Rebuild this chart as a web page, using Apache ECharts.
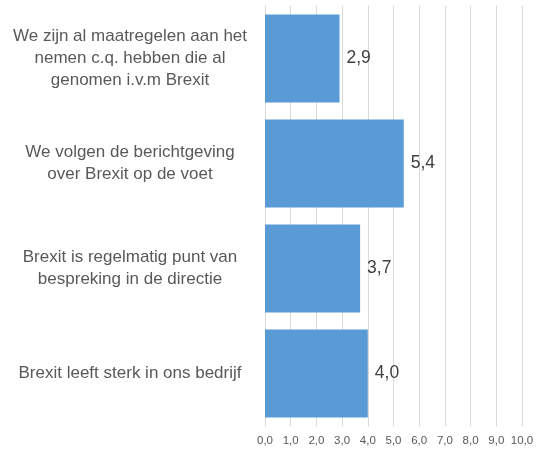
<!DOCTYPE html>
<html>
<head>
<meta charset="utf-8">
<script src="https://cdn.jsdelivr.net/npm/echarts@6/dist/echarts.min.js"></script>
<style>
  html, body { margin: 0; padding: 0; background: #fff; }
  #chart { width: 539px; height: 450px; }
</style>
</head>
<body>
<div id="chart"></div>
<script>
// categories, top to bottom
const categories = [
  'We zijn al maatregelen aan het\nnemen c.q. hebben die al\ngenomen i.v.m Brexit',
  'We volgen de berichtgeving\nover Brexit op de voet',
  'Brexit is regelmatig punt van\nbespreking in de directie',
  'Brexit leeft sterk in ons bedrijf'
];
const values = [2.9, 5.4, 3.7, 4.0];
const xTicks = [0, 1, 2, 3, 4, 5, 6, 7, 8, 9, 10];

// Nederlandse notatie: komma als decimaalteken
const fmt = v => Number(v).toFixed(1).replace('.', ',');

const chart = echarts.init(document.getElementById('chart'));
chart.setOption({
  animation: false,
  grid: { left: 265, right: 17, top: 6, bottom: 24 },
  xAxis: {
    type: 'value',
    min: xTicks[0],
    max: xTicks[xTicks.length - 1],
    interval: 1,
    axisLine: { show: false },
    axisTick: { show: false },
    splitLine: { lineStyle: { color: '#d9d9d9', width: 1 } },
    axisLabel: {
      formatter: fmt,
      color: '#595959',
      fontSize: 11.5,
      fontFamily: 'Liberation Sans',
      margin: 9
    }
  },
  yAxis: {
    type: 'category',
    inverse: true,
    data: categories,
    axisLine: { lineStyle: { color: '#d9d9d9' } },
    axisTick: { show: false },
    axisLabel: {
      color: '#595959',
      fontSize: 17,
      fontFamily: 'Liberation Sans',
      lineHeight: 22,
      align: 'center',
      margin: 135
    }
  },
  series: [{
    type: 'bar',
    data: values,
    barCategoryGap: '16%',
    itemStyle: { color: '#5b9bd5' },
    label: {
      show: true,
      position: 'right',
      distance: 7,
      formatter: p => fmt(p.value),
      color: '#404040',
      fontSize: 17.5,
      fontFamily: 'Liberation Sans'
    }
  }]
});
</script>
</body>
</html>
